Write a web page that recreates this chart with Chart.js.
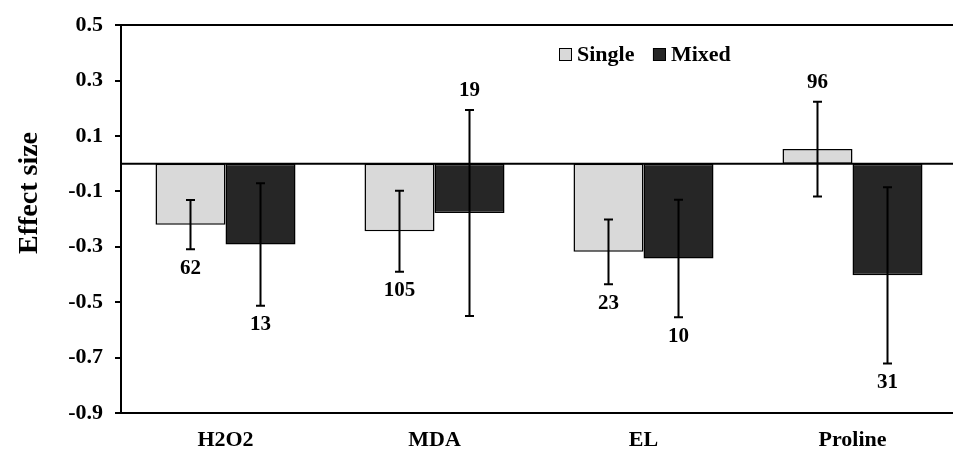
<!DOCTYPE html>
<html>
<head>
<meta charset="utf-8">
<script src="https://cdn.jsdelivr.net/npm/chart.js@4"></script>
<style>
html,body{margin:0;padding:0;background:#fff;overflow:hidden;}
canvas{display:block;}
</style>
</head>
<body>
<canvas id="c" width="957" height="450"></canvas>
<script>
const categories = ['H2O2', 'MDA', 'EL', 'Proline'];
const singleMean = [-0.220, -0.244, -0.318, 0.053];
const singleErr  = [0.089, 0.146, 0.117, 0.171];
const mixedMean  = [-0.292, -0.178, -0.342, -0.403];
const mixedErr   = [0.221, 0.372, 0.212, 0.318];
const singleN = [62, 105, 23, 96];
const mixedN  = [13, 19, 10, 31];
const singleLabelAbove = [false, false, false, true];
const mixedLabelAbove  = [false, true, false, false];
const yTicks = [-0.9, -0.7, -0.5, -0.3, -0.1, 0.1, 0.3, 0.5];

const FONT = '"Liberation Serif", "Times New Roman", serif';

const errs = [singleErr, mixedErr];
const ns = [singleN, mixedN];
const above = [singleLabelAbove, mixedLabelAbove];

const extrasPlugin = {
  id: 'extras',
  afterDatasetsDraw(chart) {
    const ctx = chart.ctx;
    const y = chart.scales.y;
    const area = chart.chartArea;
    ctx.save();
    ctx.strokeStyle = '#000';
    ctx.lineWidth = 2;
    const y0 = y.getPixelForValue(0);
    ctx.beginPath();
    ctx.moveTo(area.left, y0);
    ctx.lineTo(area.right, y0);
    ctx.stroke();
    chart.data.datasets.forEach((ds, di) => {
      const meta = chart.getDatasetMeta(di);
      meta.data.forEach((bar, i) => {
        const v = ds.data[i];
        const e = errs[di][i];
        const yt = y.getPixelForValue(v + e);
        const yb = y.getPixelForValue(v - e);
        const x = bar.x;
        ctx.strokeStyle = '#000';
        ctx.lineWidth = 2;
        ctx.beginPath();
        ctx.moveTo(x, yt); ctx.lineTo(x, yb);
        ctx.moveTo(x - 4.5, yt); ctx.lineTo(x + 4.5, yt);
        ctx.moveTo(x - 4.5, yb); ctx.lineTo(x + 4.5, yb);
        ctx.stroke();
        ctx.fillStyle = '#000';
        ctx.font = 'bold 21px ' + FONT;
        ctx.textAlign = 'center';
        ctx.textBaseline = 'middle';
        const ly = above[di][i] ? yt - 19 : yb + 19;
        ctx.fillText(String(ns[di][i]), x, ly);
      });
    });
    ctx.restore();
  },
  afterDraw(chart) {
    const ctx = chart.ctx;
    ctx.save();
    ctx.fillStyle = '#000';
    ctx.font = 'bold 28px ' + FONT;
    ctx.textAlign = 'center';
    ctx.textBaseline = 'alphabetic';
    ctx.translate(36.5, 193);
    ctx.rotate(-Math.PI / 2);
    ctx.fillText('Effect size', 0, 0);
    ctx.restore();
    ctx.save();
    ctx.font = 'bold 22px ' + FONT;
    ctx.textAlign = 'left';
    ctx.textBaseline = 'alphabetic';
    let x = 559;
    chart.data.datasets.forEach((ds) => {
      ctx.fillStyle = ds.backgroundColor;
      ctx.fillRect(x, 48, 13, 13);
      ctx.strokeStyle = '#000';
      ctx.lineWidth = 1;
      ctx.strokeRect(x + 0.5, 48.5, 12, 12);
      ctx.fillStyle = '#000';
      ctx.fillText(ds.label, x + 18, 60.5);
      x += 18 + ctx.measureText(ds.label).width + 18.5;
    });
    ctx.restore();
  }
};

new Chart(document.getElementById('c'), {
  type: 'bar',
  data: {
    labels: categories,
    datasets: [
      { label: 'Single', data: singleMean, backgroundColor: '#d9d9d9', borderColor: '#000', borderWidth: 1.5, borderSkipped: false },
      { label: 'Mixed', data: mixedMean, backgroundColor: '#262626', borderColor: '#000', borderWidth: 1.5, borderSkipped: false }
    ]
  },
  options: {
    responsive: false,
    animation: false,
    layout: { padding: { top: 20, left: 0, right: 0, bottom: 0 } },
    plugins: { legend: { display: false }, tooltip: { enabled: false } },
    datasets: { bar: { categoryPercentage: 0.67, barPercentage: 1.0 } },
    scales: {
      x: {
        grid: { display: true, color: 'rgba(0,0,0,0)', drawTicks: false },
        border: { display: true, color: '#000', width: 2 },
        ticks: { color: '#000', font: { family: FONT, size: 22, weight: 'bold' }, padding: 14 },
        afterFit: (s) => { s.height = 37; }
      },
      y: {
        min: -0.9, max: 0.5,
        afterBuildTicks: (s) => { s.ticks = yTicks.map(v => ({ value: v })); },
        grid: {
          color: (c) => (c.tick && Math.abs(c.tick.value - 0.5) < 1e-9) ? '#000' : 'rgba(0,0,0,0)',
          lineWidth: 2,
          tickColor: '#000',
          tickLength: 6,
          tickWidth: 2
        },
        border: { display: true, color: '#000', width: 2 },
        ticks: {
          color: '#000',
          font: { family: FONT, size: 22, weight: 'bold' },
          padding: 12,
          callback: (v) => v.toFixed(1)
        },
        afterFit: (s) => { s.width = 121; }
      }
    }
  },
  plugins: [extrasPlugin]
});
</script>
</body>
</html>
